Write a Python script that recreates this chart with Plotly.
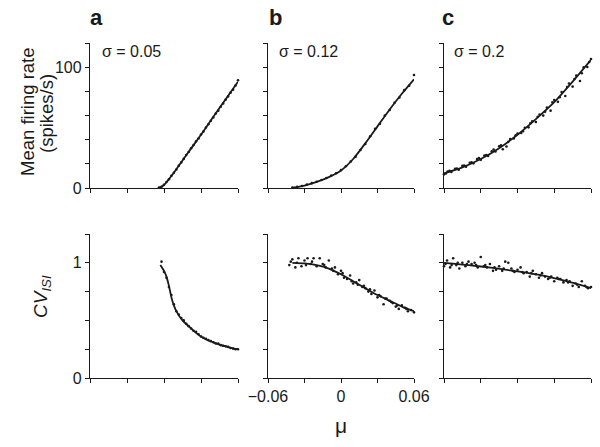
import plotly.graph_objects as go

# ---------------- data ----------------
mu_ticks = [-0.06, -0.03, 0.0, 0.03, 0.06]
mu_label_vals = [-0.06, 0.0, 0.06]
mu_label_text = ["\u22120.06", "0", "0.06"]
mu_minor = [-0.03, 0.03]
rate_ticks = [0, 20, 40, 60, 80, 100, 120]
rate_label_vals = [0, 100]
rate_label_text = ["0", "100"]
rate_minor = [20, 40, 60, 80, 120]
cv_ticks = [0, 0.25, 0.5, 0.75, 1.0, 1.25]
cv_label_vals = [0, 1.0]
cv_label_text = ["0", "1"]
cv_minor = [0.25, 0.5, 0.75, 1.25]

# Panel a (sigma = 0.05) - firing rate
a_rate_line_mu = [-0.005, -0.003, 0.0, 0.003, 0.006, 0.01, 0.02, 0.03, 0.04, 0.05, 0.06]
a_rate_line = [0, 0.5, 2.5, 6, 10, 15.5, 30, 44, 59, 73.5, 88]
a_rate_dot_mu = [-0.004, -0.002, 0.0, 0.002, 0.004, 0.006, 0.008, 0.010, 0.012, 0.014, 0.016,
                 0.018, 0.020, 0.022, 0.024, 0.026, 0.028, 0.030, 0.032, 0.034, 0.036, 0.038,
                 0.040, 0.042, 0.044, 0.046, 0.048, 0.050, 0.052, 0.054, 0.056, 0.058, 0.060]
a_rate_dot = [0.3, 1.0, 2.6, 4.9, 7.2, 10.1, 12.6, 15.3, 18.5, 21.2, 24.1,
              27.3, 29.8, 32.9, 35.5, 38.6, 41.0, 44.3, 46.8, 50.1, 52.7, 55.6,
              58.4, 61.6, 64.0, 67.3, 69.9, 73.1, 75.8, 78.9, 81.4, 84.8, 89.2]

# Panel b (sigma = 0.12) - firing rate
b_rate_line_mu = [-0.04, -0.035, -0.03, -0.02, -0.01, 0.0, 0.01, 0.02, 0.03, 0.04, 0.05, 0.06]
b_rate_line = [0.3, 1.0, 2.0, 5.0, 9.0, 14.5, 24, 37, 51, 65, 78, 90]
b_rate_dot_mu = [-0.040, -0.036, -0.032, -0.028, -0.024, -0.020, -0.016, -0.012, -0.008,
                 -0.004, 0.000, 0.004, 0.008, 0.012, 0.016, 0.020, 0.024, 0.028, 0.032,
                 0.036, 0.040, 0.044, 0.048, 0.052, 0.056, 0.060]
b_rate_dot = [0.4, 1.0, 1.7, 2.8, 4.0, 5.2, 6.6, 8.3, 10.4,
              12.2, 14.8, 18.0, 21.9, 25.8, 31.4, 36.4, 42.8, 48.9, 53.1,
              59.9, 64.6, 70.5, 74.9, 81.0, 84.6, 93.5]

# Panel c (sigma = 0.2) - firing rate
c_rate_line_mu = [-0.06, -0.045, -0.03, -0.015, 0.0, 0.015, 0.03, 0.045, 0.06]
c_rate_line = [12, 17, 24, 33, 44, 57, 71, 88, 106]
c_rate_dot_mu = [-0.060, -0.057, -0.054, -0.051, -0.048, -0.045, -0.042, -0.039, -0.036,
                 -0.033, -0.030, -0.027, -0.024, -0.021, -0.018, -0.015, -0.012, -0.009,
                 -0.006, -0.003, 0.000, 0.003, 0.006, 0.009, 0.012, 0.015, 0.018, 0.021,
                 0.024, 0.027, 0.030, 0.033, 0.036, 0.039, 0.042, 0.045, 0.048, 0.051,
                 0.054, 0.057, 0.060,
                 -0.0585, -0.0555, -0.0495, -0.0435, -0.0375, -0.0315, -0.0255, -0.0195,
                 -0.0135, -0.0075, -0.0015, 0.0045, 0.0105, 0.0165, 0.0225, 0.0285, 0.0345,
                 0.0405, 0.0465, 0.0525, 0.0585]
c_rate_dot = [11.3, 13.6, 13.2, 15.8, 15.2, 18.3, 17.6, 20.9, 20.4,
              23.9, 23.3, 26.8, 26.5, 30.4, 30.2, 34.5, 32.1, 34.3,
              40.6, 41.0, 45.1, 45.6, 49.9, 50.2, 55.1, 54.6, 60.8, 59.9,
              66.5, 64.0, 72.8, 71.3, 79.4, 76.2, 86.5, 83.9, 93.0, 88.6,
              99.8, 100.1, 106.8,
              12.1, 14.2, 16.1, 18.6, 21.3, 24.8, 27.3, 31.8,
              35.4, 38.2, 43.6, 47.0, 53.5, 58.9, 63.2, 70.9, 75.1,
              83.6, 90.2, 95.0, 104.3]

# Panel a - CV_ISI
a_cv_line_mu = [-0.003, 0.0, 0.002, 0.004, 0.006, 0.008, 0.01, 0.015, 0.02, 0.025, 0.03,
                0.035, 0.04, 0.045, 0.05, 0.055, 0.06]
a_cv_line = [0.98, 0.93, 0.88, 0.80, 0.70, 0.63, 0.58, 0.50, 0.45, 0.40, 0.36,
             0.33, 0.31, 0.29, 0.275, 0.26, 0.25]
a_cv_dot_mu = [-0.002, 0.0, 0.002, 0.004, 0.006, 0.008, 0.010, 0.012, 0.014, 0.016, 0.018,
               0.020, 0.022, 0.024, 0.026, 0.028, 0.030, 0.032, 0.034, 0.036, 0.038, 0.040,
               0.042, 0.044, 0.046, 0.048, 0.050, 0.052, 0.054, 0.056, 0.058, 0.060]
a_cv_dot = [1.01, 0.92, 0.87, 0.79, 0.72, 0.64, 0.58, 0.55, 0.52, 0.50, 0.47,
            0.45, 0.43, 0.41, 0.40, 0.38, 0.36, 0.35, 0.34, 0.33, 0.32, 0.31,
            0.30, 0.30, 0.285, 0.28, 0.275, 0.27, 0.26, 0.255, 0.25, 0.25]

# Panel b - CV_ISI
b_cv_line_mu = [-0.04, -0.03, -0.02, -0.01, 0.0, 0.01, 0.02, 0.03, 0.04, 0.05, 0.06]
b_cv_line = [1.0, 0.995, 0.98, 0.95, 0.90, 0.84, 0.78, 0.72, 0.67, 0.62, 0.58]
b_cv_dot_mu = [-0.0425, -0.04, -0.0375, -0.035, -0.0325, -0.03, -0.0275, -0.025, -0.0225,
               -0.02, -0.0175, -0.015, -0.0125, -0.01, -0.0075, -0.005, -0.0025, 0.0,
               0.0025, 0.005, 0.0075, 0.01, 0.0125, 0.015, 0.0175, 0.02, 0.0225, 0.025,
               0.0275, 0.03, 0.0325, 0.035, 0.0375, 0.04, 0.0425, 0.045, 0.0475, 0.05,
               0.0525, 0.055, 0.0575, 0.06,
               -0.0413, -0.0363, -0.0288, -0.0238, -0.0138, -0.0063, 0.0013, 0.0088,
               0.0138, 0.0188, 0.0238, 0.0313, 0.0363, 0.0413, 0.0463, 0.0538]
b_cv_dot = [0.98, 1.03, 0.96, 1.04, 0.97, 1.02, 1.04, 0.99, 1.04,
            0.97, 1.04, 0.99, 0.96, 1.02, 0.95, 0.96, 0.90, 0.93,
            0.87, 0.86, 0.89, 0.82, 0.83, 0.85, 0.79, 0.78, 0.75, 0.73,
            0.76, 0.70, 0.71, 0.64, 0.69, 0.67, 0.65, 0.62, 0.60, 0.63,
            0.61, 0.58, 0.59, 0.57,
            1.01, 1.00, 0.98, 1.01, 0.98, 0.93, 0.91, 0.84,
            0.81, 0.80, 0.77, 0.72, 0.69, 0.66, 0.63, 0.60]

# Panel c - CV_ISI
c_cv_line_mu = [-0.06, -0.04, -0.02, 0.0, 0.02, 0.04, 0.06]
c_cv_line = [1.0, 0.98, 0.955, 0.925, 0.89, 0.84, 0.78]
c_cv_dot_mu = [-0.06, -0.0575, -0.055, -0.0525, -0.05, -0.0475, -0.045, -0.0425, -0.04,
               -0.0375, -0.035, -0.0325, -0.03, -0.0275, -0.025, -0.0225, -0.02, -0.0175,
               -0.015, -0.0125, -0.01, -0.0075, -0.005, -0.0025, 0.0, 0.0025, 0.005,
               0.0075, 0.01, 0.0125, 0.015, 0.0175, 0.02, 0.0225, 0.025, 0.0275, 0.03,
               0.0325, 0.035, 0.0375, 0.04, 0.0425, 0.045, 0.0475, 0.05, 0.0525, 0.055,
               0.0575, 0.06,
               -0.0588, -0.0538, -0.0488, -0.0413, -0.0338, -0.0263, -0.0188, -0.0113,
               -0.0038, 0.0038, 0.0113, 0.0188, 0.0263, 0.0338, 0.0413, 0.0488, 0.0563]
c_cv_dot = [0.97, 1.02, 0.96, 1.04, 0.98, 0.95, 1.00, 0.97, 1.01,
            0.99, 1.00, 0.96, 1.05, 0.97, 0.96, 0.99, 0.93, 0.94,
            0.97, 0.93, 1.01, 1.00, 0.95, 0.92, 0.94, 0.96, 0.91,
            0.92, 0.88, 0.93, 0.90, 0.87, 0.91, 0.88, 0.86, 0.88, 0.84,
            0.87, 0.86, 0.83, 0.85, 0.84, 0.80, 0.82, 0.79, 0.84, 0.80,
            0.78, 0.79,
            0.99, 0.98, 1.00, 0.99, 0.98, 0.98, 0.96, 0.95,
            0.93, 0.92, 0.91, 0.89, 0.87, 0.86, 0.83, 0.81, 0.79]

panel_letters = ["a", "b", "c"]
sigma_labels = ["\u03c3 = 0.05", "\u03c3 = 0.12", "\u03c3 = 0.2"]

# ---------------- figure ----------------
W, H = 600, 447
FONT = "Liberation Sans, Arial, Helvetica, sans-serif"
INK = "#1a1a1a"

x_dom = [(90 / W, 238 / W), (268 / W, 414 / W), (444 / W, 591 / W)]
y_top = (1 - 188 / H, 1 - 43 / H)
y_bot = (1 - 378 / H, 1 - 234 / H)

fig = go.Figure()

top_data = [(a_rate_line_mu, a_rate_line, a_rate_dot_mu, a_rate_dot),
            (b_rate_line_mu, b_rate_line, b_rate_dot_mu, b_rate_dot),
            (c_rate_line_mu, c_rate_line, c_rate_dot_mu, c_rate_dot)]
bot_data = [(a_cv_line_mu, a_cv_line, a_cv_dot_mu, a_cv_dot),
            (b_cv_line_mu, b_cv_line, b_cv_dot_mu, b_cv_dot),
            (c_cv_line_mu, c_cv_line, c_cv_dot_mu, c_cv_dot)]


def add_panel(idx, data):
    xa = "x" if idx == 1 else f"x{idx}"
    ya = "y" if idx == 1 else f"y{idx}"
    lx, ly, dx, dy = data
    fig.add_trace(go.Scatter(x=dx, y=dy, mode="markers", xaxis=xa, yaxis=ya,
                             marker=dict(size=2.6, color=INK), cliponaxis=False,
                             showlegend=False, hoverinfo="skip"))
    fig.add_trace(go.Scatter(x=lx, y=ly, mode="lines", xaxis=xa, yaxis=ya,
                             line=dict(color=INK, width=1.8, shape="spline", smoothing=0.6),
                             cliponaxis=False, showlegend=False, hoverinfo="skip"))


for i in range(3):
    add_panel(i + 1, top_data[i])
for i in range(3):
    add_panel(i + 4, bot_data[i])

axis_common = dict(showline=True, linecolor=INK, linewidth=1.3, ticks="outside",
                   ticklen=4, tickwidth=1.3, tickcolor=INK, showgrid=False,
                   zeroline=False, tickfont=dict(family=FONT, size=16, color=INK),
                   fixedrange=True, automargin=False)

layout = {}
for i in range(6):
    n = i + 1
    key_x = "xaxis" if n == 1 else f"xaxis{n}"
    key_y = "yaxis" if n == 1 else f"yaxis{n}"
    col = i % 3
    top = i < 3
    xa_anchor = "y" if n == 1 else f"y{n}"
    ya_anchor = "x" if n == 1 else f"x{n}"
    if n == 5:
        layout[key_x] = dict(axis_common, domain=list(x_dom[col]), anchor=xa_anchor,
                             range=[-0.06, 0.06], tickmode="array",
                             tickvals=mu_label_vals, ticktext=mu_label_text,
                             minor=dict(tickvals=mu_minor, ticks="outside", ticklen=4,
                                        tickwidth=1.3, tickcolor=INK, showgrid=False))
    else:
        layout[key_x] = dict(axis_common, domain=list(x_dom[col]), anchor=xa_anchor,
                             range=[-0.06, 0.06], tickmode="array", tickvals=mu_ticks,
                             showticklabels=False)
    if top:
        if col == 0:
            layout[key_y] = dict(axis_common, domain=list(y_top), anchor=ya_anchor,
                                 range=[0, 120], tickmode="array",
                                 tickvals=rate_label_vals, ticktext=rate_label_text,
                                 minor=dict(tickvals=rate_minor, ticks="outside", ticklen=4,
                                            tickwidth=1.3, tickcolor=INK, showgrid=False))
        else:
            layout[key_y] = dict(axis_common, domain=list(y_top), anchor=ya_anchor,
                                 range=[0, 120], tickmode="array", tickvals=rate_ticks,
                                 showticklabels=False)
    else:
        if col == 0:
            layout[key_y] = dict(axis_common, domain=list(y_bot), anchor=ya_anchor,
                                 range=[0, 1.25], tickmode="array",
                                 tickvals=cv_label_vals, ticktext=cv_label_text,
                                 minor=dict(tickvals=cv_minor, ticks="outside", ticklen=4,
                                            tickwidth=1.3, tickcolor=INK, showgrid=False))
        else:
            layout[key_y] = dict(axis_common, domain=list(y_bot), anchor=ya_anchor,
                                 range=[0, 1.25], tickmode="array", tickvals=cv_ticks,
                                 showticklabels=False)

fig.update_layout(**layout)

annotations = []
letter_x = [97, 275, 448]
for i in range(3):
    annotations.append(dict(text=f"<b>{panel_letters[i]}</b>", x=letter_x[i] / W, y=1 - 17 / H,
                            xref="paper", yref="paper", showarrow=False,
                            xanchor="center", yanchor="middle",
                            font=dict(family=FONT, size=22, color=INK)))
sigma_x = [100, 277, 452]
for i in range(3):
    annotations.append(dict(text=sigma_labels[i], x=sigma_x[i] / W, y=1 - 52 / H,
                            xref="paper", yref="paper", showarrow=False,
                            xanchor="left", yanchor="middle",
                            font=dict(family=FONT, size=16, color=INK)))
annotations.append(dict(text="Mean firing rate", x=27 / W, y=1 - 112 / H, xref="paper",
                        yref="paper", showarrow=False, textangle=-90,
                        xanchor="center", yanchor="middle",
                        font=dict(family=FONT, size=18.5, color=INK)))
annotations.append(dict(text="(spikes/s)", x=46 / W, y=1 - 114 / H, xref="paper",
                        yref="paper", showarrow=False, textangle=-90,
                        xanchor="center", yanchor="middle",
                        font=dict(family=FONT, size=18.5, color=INK)))
annotations.append(dict(text="<i>CV</i><sub><i>ISI</i></sub>", x=42 / W, y=1 - 297 / H,
                        xref="paper", yref="paper", showarrow=False, textangle=-90,
                        xanchor="center", yanchor="middle",
                        font=dict(family=FONT, size=19, color=INK)))
annotations.append(dict(text="\u03bc", x=341 / W, y=1 - 425 / H, xref="paper",
                        yref="paper", showarrow=False, xanchor="center", yanchor="middle",
                        font=dict(family=FONT, size=21, color=INK)))

fig.update_layout(width=W, height=H,
                  margin=dict(l=0, r=0, t=0, b=0, pad=0, autoexpand=False),
                  paper_bgcolor="white", plot_bgcolor="white",
                  annotations=annotations, showlegend=False)

fig.write_html("out.html", config={"displayModeBar": False},
               post_script="document.body.style.margin='0';document.body.style.padding='0';")
